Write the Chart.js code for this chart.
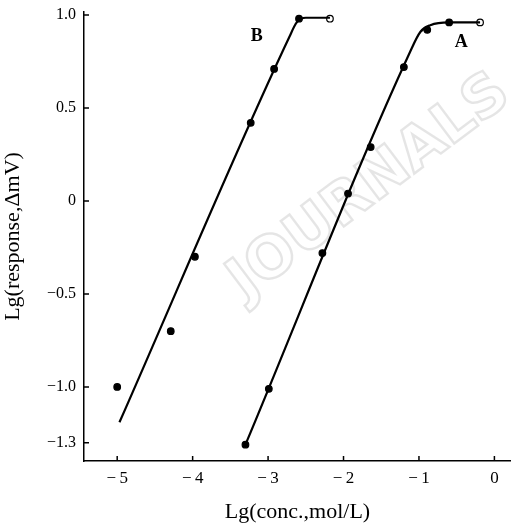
<!DOCTYPE html>
<html>
<head>
<meta charset="utf-8">
<script src="https://cdn.jsdelivr.net/npm/chart.js@4.4.1/dist/chart.umd.min.js"></script>
<style>
  html, body { margin: 0; padding: 0; background: #fff; overflow: hidden; }
  canvas { display: block; }
</style>
</head>
<body>
<canvas id="chart" width="511" height="525"></canvas>
<script>
// tick values and labels
const xTicks = [-5, -4, -3, -2, -1, 0];
const xTickLabels = ['−\u20095', '−\u20094', '−\u20093', '−\u20092', '−\u20091', '0'];
const yTicks = [1.0, 0.5, 0, -0.5, -1.0, -1.3];
const yTickLabels = ['1.0', '0.5', '0', '−0.5', '−1.0', '−1.3'];

// measured points, curve A
const concA = [-3.30, -2.99, -2.28, -1.94, -1.64, -1.20, -0.89, -0.60, -0.19];
const respA = [-1.31, -1.01, -0.28, 0.04, 0.29, 0.72, 0.92, 0.96, 0.96];
// measured points, curve B
const concB = [-5.00, -4.29, -3.97, -3.23, -2.92, -2.59, -2.18];
const respB = [-1.00, -0.70, -0.30, 0.42, 0.71, 0.98, 0.98];

// drawn calibration curves
const fitAx = [-3.30, -1.12, -0.98, -0.85, -0.60, -0.19];
const fitAy = [-1.31, 0.80, 0.91, 0.945, 0.96, 0.96];
const fitBx = [-4.97, -2.72, -2.62, -2.50, -2.18];
const fitBy = [-1.19, 0.88, 0.96, 0.985, 0.985];

const serif = '"Liberation Serif", "DejaVu Serif", serif';

function pts(xs, ys) {
  return xs.map((x, i) => ({ x: x, y: ys[i] }));
}
// last point of each series drawn as an open circle
function fills(n) {
  return Array.from({ length: n }, (_, i) => (i === n - 1 ? '#fff' : '#000'));
}

const extras = {
  id: 'extras',
  beforeDatasetsDraw(chart) {
    const ctx = chart.ctx;
    // faint scanned watermark
    ctx.save();
    ctx.translate(370, 188);
    ctx.rotate(-37 * Math.PI / 180);
    ctx.font = 'bold 58px "DejaVu Sans", sans-serif';
    ctx.textAlign = 'center';
    ctx.textBaseline = 'middle';
    ctx.strokeStyle = 'rgba(0,0,0,0.10)';
    ctx.lineWidth = 2.5;
    ctx.strokeText('JOURNALS', 0, 0);
    ctx.restore();
  },
  afterDraw(chart) {
    const ctx = chart.ctx;
    const x = chart.scales.x, y = chart.scales.y;
    const area = chart.chartArea;
    ctx.save();
    ctx.strokeStyle = '#000';
    ctx.lineWidth = 1.5;
    ctx.beginPath();
    xTicks.forEach(v => {
      const px = x.getPixelForValue(v);
      ctx.moveTo(px, area.bottom);
      ctx.lineTo(px, area.bottom - 5);
    });
    yTicks.forEach(v => {
      const py = y.getPixelForValue(v);
      ctx.moveTo(area.left - 1, py);
      ctx.lineTo(area.left + 5, py);
    });
    ctx.stroke();
    // curve labels
    ctx.fillStyle = '#000';
    ctx.font = 'bold 18px ' + serif;
    ctx.textAlign = 'center';
    ctx.textBaseline = 'middle';
    ctx.fillText('B', x.getPixelForValue(-3.15), y.getPixelForValue(0.885));
    ctx.fillText('A', x.getPixelForValue(-0.44), y.getPixelForValue(0.855));
    ctx.restore();
  }
};

new Chart(document.getElementById('chart'), {
  type: 'scatter',
  data: {
    datasets: [
      {
        label: 'A fit', type: 'line', data: pts(fitAx, fitAy),
        borderColor: '#000', borderWidth: 2.2, pointRadius: 0,
        cubicInterpolationMode: 'monotone', fill: false
      },
      {
        label: 'B fit', type: 'line', data: pts(fitBx, fitBy),
        borderColor: '#000', borderWidth: 2.2, pointRadius: 0,
        cubicInterpolationMode: 'monotone', fill: false
      },
      {
        label: 'A', data: pts(concA, respA),
        pointRadius: 3.3, pointBorderWidth: 1.2,
        pointBackgroundColor: fills(concA.length), pointBorderColor: '#000'
      },
      {
        label: 'B', data: pts(concB, respB),
        pointRadius: 3.3, pointBorderWidth: 1.2,
        pointBackgroundColor: fills(concB.length), pointBorderColor: '#000'
      }
    ]
  },
  options: {
    responsive: false,
    animation: false,
    layout: { autoPadding: false, padding: { top: 12, left: 0, right: 0, bottom: 0 } },
    plugins: { legend: { display: false }, tooltip: { enabled: false } },
    scales: {
      x: {
        type: 'linear', min: -5.44, max: 0.22,
        afterBuildTicks: s => { s.ticks = xTicks.map(v => ({ value: v })); },
        afterFit: s => { s.height = 64; s.paddingLeft = 0; s.paddingRight = 0; },
        grid: { display: false, drawTicks: false },
        border: { display: true, color: '#000', width: 1.5 },
        ticks: {
          padding: 7, color: '#000', maxRotation: 0,
          font: { family: serif, size: 17 },
          callback: (v, i) => xTickLabels[i]
        },
        title: {
          display: true, text: 'Lg(conc.,mol/L)', color: '#000',
          font: { family: serif, size: 22 }, padding: { top: 0, bottom: 0 }
        }
      },
      y: {
        type: 'linear', min: -1.398, max: 1.016,
        afterBuildTicks: s => { s.ticks = yTicks.map(v => ({ value: v })); },
        afterFit: s => { s.width = 84; s.paddingTop = 0; s.paddingBottom = 0; },
        grid: { display: false, drawTicks: false },
        border: { display: true, color: '#000', width: 1.5 },
        ticks: {
          padding: 8, color: '#000',
          font: { family: serif, size: 16 },
          callback: (v, i) => yTickLabels[i]
        },
        title: {
          display: true, text: 'Lg(response,ΔmV)', color: '#000',
          font: { family: serif, size: 22 }, padding: { top: 0, bottom: 0 }
        }
      }
    }
  },
  plugins: [extras]
});
</script>
</body>
</html>
